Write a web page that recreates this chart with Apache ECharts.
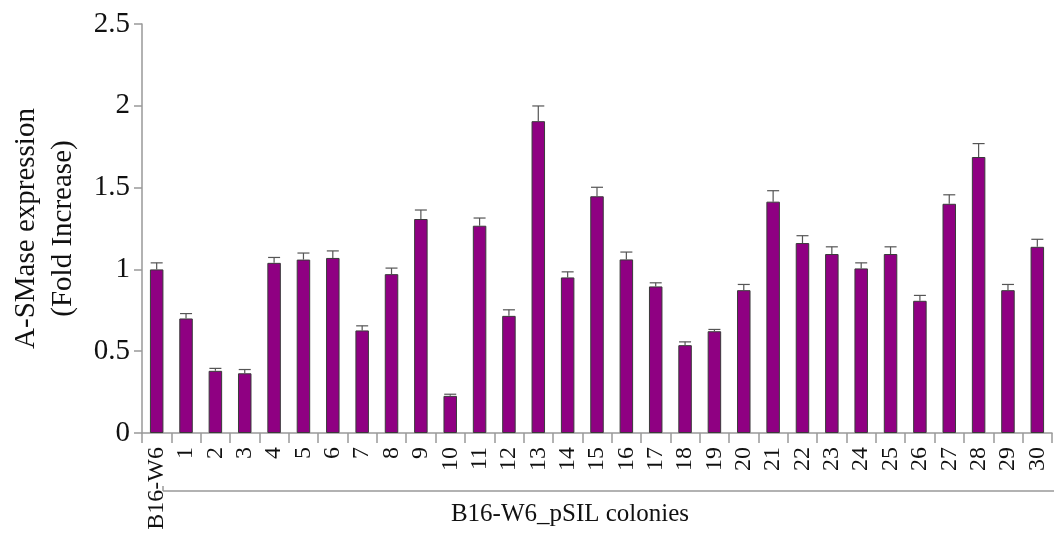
<!DOCTYPE html>
<html>
<head>
<meta charset="utf-8">
<script src="https://cdn.jsdelivr.net/npm/echarts@6/dist/echarts.min.js"></script>
<style>html,body{margin:0;padding:0;background:#fff;}#c{width:1054px;height:538px;}</style>
</head>
<body>
<div id="c"></div>
<script>
var categories = ['B16-W6','1','2','3','4','5','6','7','8','9','10','11','12','13','14','15','16','17','18','19','20','21','22','23','24','25','26','27','28','29','30'];
var values = [1.00,0.70,0.38,0.365,1.04,1.06,1.07,0.627,0.971,1.308,0.227,1.267,0.716,1.906,0.951,1.447,1.061,0.896,0.537,0.622,0.873,1.414,1.161,1.094,1.006,1.094,0.808,1.401,1.687,0.873,1.138];
var errors = [0.04,0.03,0.015,0.023,0.033,0.04,0.043,0.028,0.037,0.055,0.01,0.047,0.037,0.093,0.034,0.055,0.045,0.022,0.02,0.011,0.035,0.067,0.045,0.044,0.034,0.044,0.033,0.055,0.082,0.035,0.046];
var yTicks = ['0','0.5','1','1.5','2','2.5'];
var yTitle = 'A-SMase expression\n(Fold Increase)';
var groupLabel = 'B16-W6_pSIL colonies';

var font = "'Liberation Serif','Times New Roman',serif";
var chart = echarts.init(document.getElementById('c'), null, {renderer:'canvas'});
var errData = values.map(function(v,i){ return [i, v, v + errors[i]]; });

chart.setOption({
  animation: false,
  backgroundColor: '#fff',
  grid: {left: 137, right: 2, top: 24, bottom: 105},
  xAxis: {
    type: 'category',
    data: categories,
    axisLine: {lineStyle: {color: '#999', width: 1.5}},
    axisTick: {show: true, length: 10, lineStyle: {color: '#999', width: 1.5}},
    axisLabel: {rotate: 90, margin: 14, fontFamily: font, fontSize: 24, color: '#111', interval: 0}
  },
  yAxis: {
    type: 'value', min: 0, max: 2.5, interval: 0.5,
    splitLine: {show: false},
    axisLine: {show: true, lineStyle: {color: '#999', width: 1.5}},
    axisTick: {show: true, length: 8, lineStyle: {color: '#999', width: 1.5}},
    axisLabel: {margin: 12, fontFamily: font, fontSize: 29, color: '#111',
      formatter: function(v){ var i = Math.round(v/0.5); return yTicks[i]; }},
    name: yTitle, nameLocation: 'middle', nameRotate: 90, nameGap: 60,
    nameTextStyle: {fontFamily: font, fontSize: 29, color: '#111', lineHeight: 37, align: 'center'}
  },
  series: [
    {
      type: 'bar', data: values, barWidth: 13.5,
      itemStyle: {color: '#8f0082', borderColor: '#3a3a3a', borderWidth: 1}
    },
    {
      type: 'custom', data: errData, z: 5,
      renderItem: function(params, api){
        var x = api.value(0);
        var p0 = api.coord([x, api.value(1)]);
        var p1 = api.coord([x, api.value(2)]);
        var hw = 6;
        var st = {stroke: '#555', lineWidth: 1.2};
        return {type: 'group', children: [
          {type: 'line', shape: {x1: p0[0], y1: p0[1], x2: p1[0], y2: p1[1]}, style: st},
          {type: 'line', shape: {x1: p1[0]-hw, y1: p1[1], x2: p1[0]+hw, y2: p1[1]}, style: st}
        ]};
      }
    }
  ],
  graphic: [
    {type: 'line', shape: {x1: 163, y1: 491, x2: 1054, y2: 491}, style: {stroke: '#999', lineWidth: 1.5}},
    {type: 'line', shape: {x1: 163, y1: 486, x2: 163, y2: 491}, style: {stroke: '#999', lineWidth: 1.5}},
    {type: 'text', x: 570, y: 514, style: {text: groupLabel, font: '25px ' + font, fill: '#111', textAlign: 'center', textVerticalAlign: 'middle'}}
  ]
});
</script>
</body>
</html>
